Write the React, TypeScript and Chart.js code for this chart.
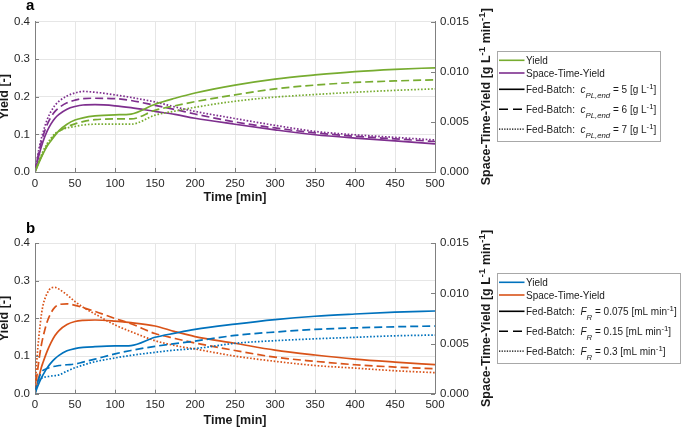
import React, { useEffect, useRef } from 'react';
import { Chart, registerables } from 'chart.js';

Chart.register(...registerables);

const FONT = '"Liberation Sans", Arial, Helvetica, sans-serif';

// ---------- Panel a data (time in min) ----------
const timeA = [0, 5, 10, 15, 20, 25, 30, 40, 50, 60, 75, 100, 120, 150, 175, 200, 250, 300, 350, 400, 450, 500];
const yieldA_c5 = [0, 0.025, 0.048, 0.068, 0.083, 0.097, 0.11, 0.127, 0.138, 0.144, 0.149, 0.152, 0.154, 0.18, 0.196, 0.21, 0.231, 0.247, 0.258, 0.267, 0.273, 0.277];
const yieldA_c6 = [0, 0.027, 0.05, 0.07, 0.086, 0.099, 0.108, 0.12, 0.128, 0.134, 0.139, 0.141, 0.141, 0.164, 0.176, 0.187, 0.205, 0.221, 0.231, 0.238, 0.242, 0.245];
const yieldA_c7 = [0, 0.03, 0.055, 0.075, 0.09, 0.102, 0.109, 0.117, 0.121, 0.125, 0.127, 0.127, 0.127, 0.151, 0.162, 0.172, 0.188, 0.199, 0.206, 0.212, 0.217, 0.221];
const styA_c5 = [0, 0.00169, 0.00304, 0.00405, 0.0048, 0.00536, 0.00574, 0.00626, 0.00653, 0.00668, 0.00671, 0.0066, 0.00641, 0.00604, 0.00574, 0.00536, 0.00476, 0.0042, 0.00371, 0.00338, 0.00311, 0.00281];
const styA_c6 = [0, 0.00206, 0.00356, 0.00469, 0.00548, 0.00604, 0.00641, 0.0069, 0.00716, 0.00731, 0.00735, 0.00731, 0.00713, 0.00664, 0.00623, 0.00578, 0.00499, 0.00439, 0.0039, 0.00356, 0.0033, 0.00304];
const styA_c7 = [0, 0.00233, 0.00394, 0.00518, 0.00604, 0.00664, 0.00705, 0.00758, 0.00788, 0.00803, 0.00795, 0.00769, 0.00743, 0.00698, 0.00649, 0.00604, 0.00533, 0.00465, 0.00405, 0.00371, 0.00345, 0.00319];

// ---------- Panel b data (time in min) ----------
const timeB = [0, 2, 5, 8, 10, 15, 20, 25, 30, 40, 50, 60, 75, 100, 120, 150, 175, 200, 250, 300, 350, 400, 450, 500];
const yieldB_f075 = [0, 0.012, 0.028, 0.042, 0.05, 0.068, 0.082, 0.093, 0.102, 0.114, 0.12, 0.123, 0.125, 0.127, 0.128, 0.15, 0.161, 0.171, 0.185, 0.197, 0.206, 0.212, 0.217, 0.22];
const yieldB_f15 = [0, 0.02, 0.042, 0.057, 0.062, 0.067, 0.071, 0.073, 0.075, 0.077, 0.079, 0.084, 0.092, 0.106, 0.115, 0.126, 0.133, 0.14, 0.155, 0.164, 0.171, 0.175, 0.178, 0.18];
const yieldB_f3 = [0, 0.02, 0.036, 0.041, 0.043, 0.045, 0.047, 0.048, 0.05, 0.06, 0.069, 0.076, 0.085, 0.095, 0.102, 0.11, 0.116, 0.12, 0.134, 0.141, 0.146, 0.15, 0.154, 0.156];
const styB_f075 = [0, 0.00075, 0.00169, 0.00263, 0.00311, 0.0042, 0.0051, 0.00581, 0.0063, 0.0069, 0.0072, 0.00731, 0.00735, 0.00724, 0.00709, 0.00675, 0.00619, 0.0057, 0.00503, 0.00435, 0.00386, 0.00345, 0.00315, 0.00289];
const styB_f15 = [0, 0.0015, 0.00338, 0.00488, 0.00563, 0.00713, 0.00806, 0.00863, 0.00889, 0.00896, 0.00881, 0.00859, 0.00821, 0.0075, 0.00698, 0.006, 0.00551, 0.00506, 0.00431, 0.00364, 0.00323, 0.00289, 0.00266, 0.00248];
const styB_f3 = [0, 0.003, 0.00581, 0.00788, 0.00881, 0.00998, 0.01054, 0.01061, 0.01043, 0.00986, 0.00919, 0.00863, 0.00795, 0.00686, 0.00619, 0.00529, 0.0048, 0.00446, 0.00375, 0.00323, 0.00281, 0.00255, 0.00229, 0.0021];

// ---------- Axis / label text ----------
const xTicksMax = 500;
const xStep = 50;
const yLeftMax = 0.4;
const yLeftStep = 0.1;
const yRightMax = 0.015;
const yRightStep = 0.005;
const xTitle = 'Time [min]';
const yLeftTitle = 'Yield [-]';

type Seg = { t: string; it?: boolean; sub?: boolean; sup?: boolean };

const rightTitleSegs: Seg[] = [
  { t: 'Space-Time-Yield [g L' },
  { t: '-1', sup: true },
  { t: ' min' },
  { t: '-1', sup: true },
  { t: ']' },
];

const GREEN = '#77AC30';
const PURPLE = '#7E2F8E';
const BLUE = '#0072BD';
const ORANGE = '#D95319';
const DASH = [8, 4];
const DOT = [1.6, 1.8];

type LegendRow = { color: string; dash: number[]; segs: Seg[] };

const legendA: LegendRow[] = [
  { color: GREEN, dash: [], segs: [{ t: 'Yield' }] },
  { color: PURPLE, dash: [], segs: [{ t: 'Space-Time-Yield' }] },
  { color: '#000', dash: [], segs: [{ t: 'Fed-Batch:  ' }, { t: 'c', it: true }, { t: 'PL,end', it: true, sub: true }, { t: ' = 5 [g L' }, { t: '-1', sup: true }, { t: ']' }] },
  { color: '#000', dash: [9, 5], segs: [{ t: 'Fed-Batch:  ' }, { t: 'c', it: true }, { t: 'PL,end', it: true, sub: true }, { t: ' = 6 [g L' }, { t: '-1', sup: true }, { t: ']' }] },
  { color: '#000', dash: [1.3, 1.3], segs: [{ t: 'Fed-Batch:  ' }, { t: 'c', it: true }, { t: 'PL,end', it: true, sub: true }, { t: ' = 7 [g L' }, { t: '-1', sup: true }, { t: ']' }] },
];

const legendB: LegendRow[] = [
  { color: BLUE, dash: [], segs: [{ t: 'Yield' }] },
  { color: ORANGE, dash: [], segs: [{ t: 'Space-Time-Yield' }] },
  { color: '#000', dash: [], segs: [{ t: 'Fed-Batch:  ' }, { t: 'F', it: true }, { t: 'R', it: true, sub: true }, { t: ' = 0.075 [mL min' }, { t: '-1', sup: true }, { t: ']' }] },
  { color: '#000', dash: [9, 5], segs: [{ t: 'Fed-Batch:  ' }, { t: 'F', it: true }, { t: 'R', it: true, sub: true }, { t: ' = 0.15 [mL min' }, { t: '-1', sup: true }, { t: ']' }] },
  { color: '#000', dash: [1.3, 1.3], segs: [{ t: 'Fed-Batch:  ' }, { t: 'F', it: true }, { t: 'R', it: true, sub: true }, { t: ' = 0.3 [mL min' }, { t: '-1', sup: true }, { t: ']' }] },
];

function fontFor(s: Seg, size: number, bold: boolean) {
  const sz = s.sub || s.sup ? size * 0.78 : size;
  return `${s.it ? 'italic ' : ''}${bold ? 'bold ' : ''}${sz}px ${FONT}`;
}
function richWidth(ctx: CanvasRenderingContext2D, segs: Seg[], size: number, bold: boolean) {
  let w = 0;
  for (const s of segs) {
    ctx.font = fontFor(s, size, bold);
    w += ctx.measureText(s.t).width;
  }
  return w;
}
function drawRich(ctx: CanvasRenderingContext2D, segs: Seg[], x: number, y: number, size: number, bold: boolean) {
  let cx = x;
  ctx.textAlign = 'left';
  ctx.textBaseline = 'alphabetic';
  for (const s of segs) {
    ctx.font = fontFor(s, size, bold);
    const dy = s.sub ? size * 0.48 : s.sup ? -size * 0.42 : 0;
    ctx.fillText(s.t, cx, y + dy);
    cx += ctx.measureText(s.t).width;
  }
  return cx;
}

type PanelSpec = {
  letter: string;
  letterY: number;
  height: number;
  padTop: number;
  xAxisH: number;
  xTitlePadBottom: number;
  legendTop: number;
  legend: LegendRow[];
  datasets: any[];
};

function series(t: number[], v: number[], color: string, dash: number[], axis: string) {
  return {
    data: t.map((x, i) => ({ x, y: v[i] })),
    borderColor: color,
    backgroundColor: color,
    borderDash: dash,
    borderWidth: 1.7,
    pointRadius: 0,
    fill: false,
    cubicInterpolationMode: 'monotone',
    yAxisID: axis,
  };
}

const panelA: PanelSpec = {
  letter: 'a',
  letterY: 10,
  height: 210,
  padTop: 21.5,
  xAxisH: 38,
  xTitlePadBottom: 4.5,
  legendTop: 51.3,
  legend: legendA,
  datasets: [
    series(timeA, yieldA_c5, GREEN, [], 'y'),
    series(timeA, yieldA_c6, GREEN, DASH, 'y'),
    series(timeA, yieldA_c7, GREEN, DOT, 'y'),
    series(timeA, styA_c5, PURPLE, [], 'y1'),
    series(timeA, styA_c6, PURPLE, DASH, 'y1'),
    series(timeA, styA_c7, PURPLE, DOT, 'y1'),
  ],
};

const panelB: PanelSpec = {
  letter: 'b',
  letterY: 23.3,
  height: 219,
  padTop: 33.3,
  xAxisH: 35.3,
  xTitlePadBottom: 0.5,
  legendTop: 63.3,
  legend: legendB,
  datasets: [
    series(timeB, yieldB_f075, BLUE, [], 'y'),
    series(timeB, yieldB_f15, BLUE, DASH, 'y'),
    series(timeB, yieldB_f3, BLUE, DOT, 'y'),
    series(timeB, styB_f075, ORANGE, [], 'y1'),
    series(timeB, styB_f15, ORANGE, DASH, 'y1'),
    series(timeB, styB_f3, ORANGE, DOT, 'y1'),
  ],
};

function decorPlugin(p: PanelSpec) {
  return {
    id: 'decor' + p.letter,
    afterDraw(chart: any) {
      const ctx: CanvasRenderingContext2D = chart.ctx;
      const ca = chart.chartArea;
      const xs = chart.scales.x;
      const yl = chart.scales.y;
      const yr = chart.scales.y1;
      ctx.save();
      // inward tick marks
      ctx.strokeStyle = '#808080';
      ctx.lineWidth = 1;
      ctx.setLineDash([]);
      ctx.beginPath();
      for (let v = 0; v <= xTicksMax + 1e-9; v += xStep) {
        const px = Math.round(xs.getPixelForValue(v)) + 0.5;
        ctx.moveTo(px, ca.bottom);
        ctx.lineTo(px, ca.bottom - 4);
      }
      for (let i = 0; i <= Math.round(yLeftMax / yLeftStep); i++) {
        const py = Math.round(yl.getPixelForValue(i * yLeftStep)) + 0.5;
        ctx.moveTo(ca.left, py);
        ctx.lineTo(ca.left + 4, py);
      }
      for (let i = 0; i <= Math.round(yRightMax / yRightStep); i++) {
        const py = Math.round(yr.getPixelForValue(i * yRightStep)) + 0.5;
        ctx.moveTo(ca.right, py);
        ctx.lineTo(ca.right - 4, py);
      }
      ctx.stroke();

      // panel letter
      ctx.fillStyle = '#000';
      ctx.font = `bold 15px ${FONT}`;
      ctx.textAlign = 'left';
      ctx.textBaseline = 'alphabetic';
      ctx.fillText(p.letter, 26, p.letterY);

      // right axis title (rotated)
      ctx.save();
      const cy = (ca.top + ca.bottom) / 2;
      ctx.translate(490, cy);
      ctx.rotate(-Math.PI / 2);
      ctx.fillStyle = '#1a1a1a';
      const tw = richWidth(ctx, rightTitleSegs, 12.5, true);
      drawRich(ctx, rightTitleSegs, -tw / 2, 0, 12.5, true);
      ctx.restore();

      // legend
      const left = 496.7;
      const top = p.legendTop;
      const rowOff = [9, 21.7, 38, 58, 77.8];
      let maxEnd = 0;
      for (const r of p.legend) {
        maxEnd = Math.max(maxEnd, 526 + richWidth(ctx, r.segs, 10, false));
      }
      const w = Math.min(maxEnd - left + 3.5, 684 - left);
      const h = 90;
      ctx.fillStyle = '#fff';
      ctx.fillRect(left, top, w, h);
      ctx.strokeStyle = '#a8a8a8';
      ctx.lineWidth = 1;
      ctx.strokeRect(Math.round(left) + 0.5, Math.round(top) + 0.5, Math.round(w), Math.round(h));
      p.legend.forEach((r, i) => {
        const ly = top + rowOff[i];
        ctx.strokeStyle = r.color;
        ctx.lineWidth = r.dash.length && r.dash[0] < 2 ? 1.2 : 1.6;
        ctx.setLineDash(r.dash);
        ctx.beginPath();
        ctx.moveTo(499, ly);
        ctx.lineTo(524.5, ly);
        ctx.stroke();
        ctx.setLineDash([]);
        ctx.fillStyle = '#1a1a1a';
        drawRich(ctx, r.segs, 526, ly + 3.6, 10, false);
      });
      ctx.restore();
    },
  };
}

function makeConfig(p: PanelSpec): any {
  const tickFont = { family: FONT, size: 11.5 };
  const titleFont = { family: FONT, size: 12.5, weight: 'bold' };
  return {
    type: 'line',
    data: { datasets: p.datasets },
    options: {
      animation: false,
      responsive: false,
      maintainAspectRatio: false,
      layout: { padding: { top: p.padTop, left: 0, right: 0, bottom: 0 } },
      plugins: { legend: { display: false }, tooltip: { enabled: false }, title: { display: false } },
      elements: { point: { radius: 0 } },
      scales: {
        x: {
          type: 'linear',
          min: 0,
          max: xTicksMax,
          ticks: { stepSize: xStep, autoSkip: false, maxRotation: 0, padding: 4.5, color: '#262626', font: tickFont },
          grid: { color: '#e6e6e6', lineWidth: 1, drawTicks: false },
          border: { color: '#808080', width: 1 },
          title: { display: true, text: xTitle, color: '#1a1a1a', font: titleFont, padding: { top: 0, bottom: p.xTitlePadBottom } },
          afterFit: (s: any) => { s.height = p.xAxisH; },
        },
        y: {
          type: 'linear',
          position: 'left',
          min: 0,
          max: yLeftMax,
          ticks: { stepSize: yLeftStep, padding: 5, color: '#262626', font: tickFont, callback: (v: any) => Number(v).toFixed(1) },
          grid: { color: '#e6e6e6', lineWidth: 1, drawTicks: false },
          border: { color: '#808080', width: 1 },
          title: { display: true, text: yLeftTitle, color: '#1a1a1a', font: titleFont, padding: { top: -2.5, bottom: 0 } },
          afterFit: (s: any) => { s.width = 35; },
        },
        y1: {
          type: 'linear',
          position: 'right',
          min: 0,
          max: yRightMax,
          ticks: { stepSize: yRightStep, padding: 5, color: '#262626', font: tickFont, callback: (v: any) => Number(v).toFixed(3) },
          grid: { display: false, drawTicks: false },
          border: { color: '#808080', width: 1 },
          title: { display: false },
          afterFit: (s: any) => { s.width = 250; },
        },
      },
    },
    plugins: [decorPlugin(p)],
  };
}

function Panel({ spec, top }: { spec: PanelSpec; top: number }) {
  const ref = useRef<HTMLCanvasElement | null>(null);
  useEffect(() => {
    if (!ref.current) return;
    const chart = new Chart(ref.current, makeConfig(spec));
    return () => chart.destroy();
  }, [spec]);
  return (
    <canvas
      ref={ref}
      width={685}
      height={spec.height}
      style={{ position: 'absolute', left: 0, top, width: 685, height: spec.height, display: 'block' }}
    />
  );
}

export default function App() {
  useEffect(() => {
    document.body.style.margin = '0';
    document.body.style.background = '#fff';
  }, []);
  return (
    <div style={{ position: 'relative', width: 685, height: 429, background: '#fff', overflow: 'hidden' }}>
      <Panel spec={panelA} top={0} />
      <Panel spec={panelB} top={210} />
    </div>
  );
}
